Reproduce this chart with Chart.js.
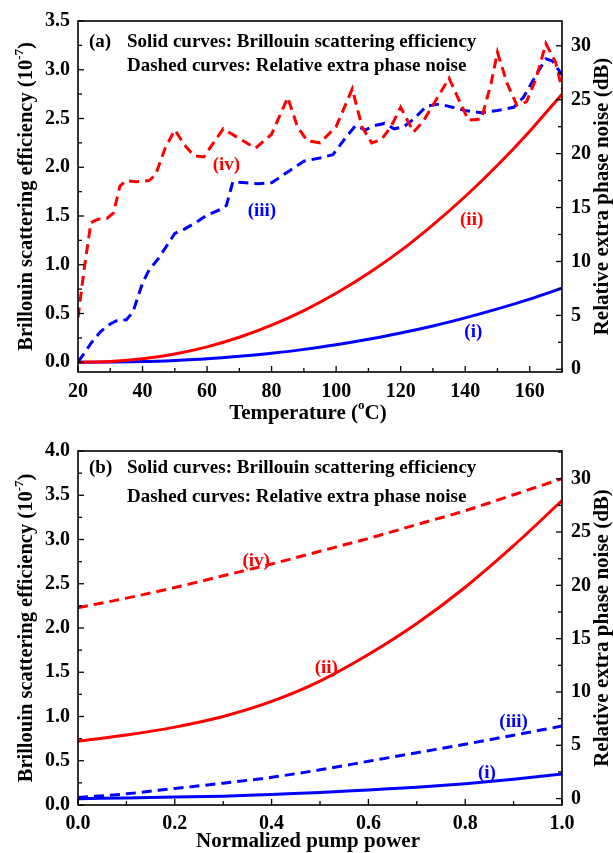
<!DOCTYPE html>
<html><head><meta charset="utf-8">
<script src="https://cdn.jsdelivr.net/npm/chart.js@4"></script>
<style>
html,body{margin:0;padding:0;background:#fff;}
canvas{position:absolute;left:0;}
#c1{top:0;}
#c2{top:430px;}
</style></head><body>
<canvas id="c1" width="613" height="430"></canvas>
<canvas id="c2" width="613" height="423"></canvas>
<script>
// ---------- Panel (a): temperature ----------
const tempSolid = [20,30,40,50,60,70,80,90,100,110,120,130,140,150,160,170];
const effI_a  = [0,0.002,0.007,0.019,0.036,0.061,0.092,0.132,0.179,0.235,0.30,0.372,0.455,0.547,0.648,0.76];
const effII_a = [0,0.008,0.035,0.085,0.158,0.256,0.38,0.53,0.707,0.913,1.145,1.41,1.70,2.02,2.37,2.75];

const tempIII = [20,22,24,27,30,32,35,37,40,42,45,50,53,57,60,64,66,68,72,76,80,85,90,95,99,103,106,109,112,115,118,121,124,128,132,136,140,145,150,155,158,162,165,167,170];
const noiseIII_a = [0.7,1.5,2.4,3.5,4.2,4.5,4.6,5.3,8.0,9.2,10.3,12.6,13.0,13.7,14.3,14.8,15.2,17.4,17.3,17.2,17.3,18.3,19.3,19.6,19.9,21.5,22.6,22.2,22.6,22.8,22.3,22.5,23.2,24.4,24.6,24.3,24.0,23.8,24.0,24.3,25.2,27.3,28.8,28.6,27.3];

const tempIV = [20,22,24,26,29,31,33,35,38,42,44,47,50,53,56,59,62,65,70,75,80,85,88,91,95,100,105,108,111,114,117,120,124,127,131,135,138,141,145,148,150,153,156,159,162,165,168,170];
const noiseIV_a = [4.8,9.5,13.6,13.9,14.0,14.5,17.0,17.5,17.4,17.5,18.0,20.5,22.2,20.8,19.8,19.7,21.0,22.3,21.4,20.5,21.8,25.2,22.5,21.2,21.0,22.5,26.0,22.5,21.0,21.3,22.5,24.3,22.0,23.0,25.0,27.0,25.0,23.1,23.2,26.5,29.4,26.5,24.5,24.8,27.0,30.2,28.5,26.0];

const xTicksA  = [20,40,60,80,100,120,140,160];
const yTicksA  = [0,0.5,1.0,1.5,2.0,2.5,3.0,3.5];
const y2TicksA = [0,5,10,15,20,25,30];

// ---------- Panel (b): normalized pump power ----------
const pump = [0,0.1,0.2,0.3,0.4,0.5,0.6,0.7,0.8,0.9,1.0];
const effI_b    = [0.07,0.08,0.09,0.10,0.12,0.14,0.17,0.20,0.24,0.29,0.35];
const effII_b   = [0.72,0.79,0.88,1.0,1.17,1.40,1.70,2.05,2.46,2.93,3.44];
const noiseIII_b = [0.1,0.45,0.95,1.45,2.0,2.7,3.5,4.3,5.1,5.95,6.8];
const noiseIV_b  = [17.9,18.8,19.8,20.9,22.0,23.2,24.4,25.7,27.0,28.5,30.0];

const xTicksB  = [0,0.2,0.4,0.6,0.8,1.0];
const yTicksB  = [0,0.5,1.0,1.5,2.0,2.5,3.0,3.5,4.0];
const y2TicksB = [0,5,10,15,20,25,30];

const RED = '#ff0000', BLUE = '#0000ff';
const FF = "'Liberation Serif','Times New Roman',serif";

function pts(xs, ys){ return xs.map((x,i)=>({x:x, y:ys[i]})); }

function drawRich(ctx, parts, x, y, size){
  let total = 0;
  const ws = parts.map(p=>{ ctx.font = 'bold '+(p.sup?Math.round(size*0.62):size)+'px '+FF; const w = ctx.measureText(p.t).width; total += w; return w; });
  let cx = x - total/2;
  parts.forEach((p,i)=>{
    ctx.font = 'bold '+(p.sup?Math.round(size*0.62):size)+'px '+FF;
    ctx.textAlign = 'left'; ctx.textBaseline = 'middle';
    ctx.fillText(p.t, cx, p.sup ? y - size*0.38 : y);
    cx += ws[i];
  });
}

const decor = {
  id: 'decor',
  afterDraw(chart, args, o){
    const ctx = chart.ctx, a = chart.chartArea;
    const sx = chart.scales.x, sy = chart.scales.y, sy2 = chart.scales.y2;
    ctx.save();
    ctx.strokeStyle = '#000'; ctx.lineWidth = 1.3;
    const drawTicks = (scale, vals, side) => {
      const majors = vals;
      const minors = [];
      for (let i=0;i<majors.length-1;i++) minors.push((majors[i]+majors[i+1])/2);
      const step = majors[1]-majors[0];
      minors.push(majors[majors.length-1]+step/2);
      minors.unshift(majors[0]-step/2);
      const draw = (v,len) => {
        if (v < scale.min - 1e-9 || v > scale.max + 1e-9) return;
        const p = scale.getPixelForValue(v);
        ctx.beginPath();
        if (side==='bottom'){ ctx.moveTo(p,a.bottom); ctx.lineTo(p,a.bottom-len); }
        if (side==='left'){ ctx.moveTo(a.left,p); ctx.lineTo(a.left+len,p); }
        if (side==='right'){ ctx.moveTo(a.right,p); ctx.lineTo(a.right-len,p); }
        ctx.stroke();
      };
      majors.forEach(v=>draw(v,6));
      minors.forEach(v=>draw(v,4));
    };
    drawTicks(sx, o.xt, 'bottom');
    drawTicks(sy, o.yt, 'left');
    drawTicks(sy2, o.y2t, 'right');
    ctx.lineWidth = 1.6;
    ctx.strokeRect(a.left, a.top, a.right-a.left, a.bottom-a.top);
    ctx.fillStyle = '#000';
    drawRich(ctx, o.xTitle, o.xTitleX, o.xTitleY, 21);
    ctx.save(); ctx.translate(27, (a.top+a.bottom)/2); ctx.rotate(-Math.PI/2);
    drawRich(ctx, [{t:'Brillouin scattering efficiency (10'},{t:'-7',sup:true},{t:')'}], 0, 0, 20.5);
    ctx.restore();
    ctx.save(); ctx.translate(603, (a.top+a.bottom)/2); ctx.rotate(-Math.PI/2);
    drawRich(ctx, [{t:'Relative extra phase noise (dB)'}], 0, 0, 21);
    ctx.restore();
    ctx.font = 'bold 19px '+FF; ctx.textAlign='left'; ctx.textBaseline='middle';
    ctx.fillText(o.panel, 89, o.line1Y);
    ctx.fillText('Solid curves: Brillouin scattering efficiency', 127, o.line1Y);
    ctx.fillText('Dashed curves: Relative extra phase noise', 127, o.line2Y);
    ctx.font = 'bold 19px '+FF; ctx.textAlign='center';
    o.labels.forEach(l=>{
      ctx.fillStyle = l.c;
      ctx.fillText(l.t, sx.getPixelForValue(l.x), sy.getPixelForValue(l.y));
    });
    ctx.restore();
  }
};

function lineDS(data, color, axis, dashed, smooth){
  return { data, borderColor: color, borderWidth: 3, pointRadius: 0, fill: false,
    yAxisID: axis, borderDash: dashed ? [10,6] : [], tension: smooth ? 0.4 : 0,
    cubicInterpolationMode: smooth ? 'monotone' : 'default' };
}

function scaleOpts(min, max, ticks, pos, fit, pad){
  return {
    type: 'linear', position: pos, min, max,
    afterBuildTicks: s => { s.ticks = ticks.map(v=>({value:v})); },
    afterFit: fit,
    grid: { display: true, drawOnChartArea: false, drawTicks: false, color: 'rgba(0,0,0,0)' },
    border: { display: false },
    ticks: { color: '#000', padding: pad, font: { family: FF, size: 20, weight: 'bold' },
      autoSkip: false, maxRotation: 0,
      callback: v => pos==='bottom' ? (ticks[1]-ticks[0]>=1 ? String(v) : v.toFixed(1)) : (pos==='right' ? String(v) : v.toFixed(1)) }
  };
}

Chart.register(decor);

new Chart(document.getElementById('c1'), {
  type: 'line',
  data: { datasets: [
    lineDS(pts(tempIV, noiseIV_a), RED, 'y2', true, false),
    lineDS(pts(tempIII, noiseIII_a), BLUE, 'y2', true, false),
    lineDS(pts(tempSolid, effII_a), RED, 'y', false, true),
    lineDS(pts(tempSolid, effI_a), BLUE, 'y', false, true)
  ]},
  options: {
    responsive: false, animation: false, events: [],
    layout: { padding: { top: 16, left: 0, right: 0, bottom: 0 } },
    plugins: { legend: { display: false }, tooltip: { enabled: false },
      decor: { panel: '(a)', line1Y: 42, line2Y: 66,
        xt: xTicksA, yt: yTicksA, y2t: y2TicksA,
        xTitle: [{t:'Temperature ('},{t:'o',sup:true},{t:'C)'}], xTitleX: 308, xTitleY: 414,
        labels: [
          {t:'(iv)', x:66, y:2.02, c:RED},
          {t:'(iii)', x:77, y:1.55, c:BLUE},
          {t:'(ii)', x:142, y:1.46, c:RED},
          {t:'(i)', x:142.5, y:0.31, c:BLUE}
        ] } },
    scales: {
      x: scaleOpts(20, 170, xTicksA, 'bottom', s=>{ s.height = 58; }, 8),
      y: scaleOpts(-0.1, 3.5, yTicksA, 'left', s=>{ s.width = 78; }, 8),
      y2: scaleOpts(-0.25, 32.3, y2TicksA, 'right', s=>{ s.width = 51; }, 9)
    }
  }
});

new Chart(document.getElementById('c2'), {
  type: 'line',
  data: { datasets: [
    lineDS(pts(pump, noiseIV_b), RED, 'y2', true, true),
    lineDS(pts(pump, noiseIII_b), BLUE, 'y2', true, true),
    lineDS(pts(pump, effII_b), RED, 'y', false, true),
    lineDS(pts(pump, effI_b), BLUE, 'y', false, true)
  ]},
  options: {
    responsive: false, animation: false, events: [],
    layout: { padding: { top: 17, left: 0, right: 0, bottom: 0 } },
    plugins: { legend: { display: false }, tooltip: { enabled: false },
      decor: { panel: '(b)', line1Y: 38, line2Y: 67,
        xt: xTicksB, yt: yTicksB, y2t: y2TicksB,
        xTitle: [{t:'Normalized pump power'}], xTitleX: 308, xTitleY: 412,
        labels: [
          {t:'(iv)', x:0.368, y:2.76, c:RED},
          {t:'(ii)', x:0.513, y:1.55, c:RED},
          {t:'(iii)', x:0.9, y:0.94, c:BLUE},
          {t:'(i)', x:0.845, y:0.36, c:BLUE}
        ] } },
    scales: {
      x: scaleOpts(0, 1, xTicksB, 'bottom', s=>{ s.height = 48; }, 7),
      y: scaleOpts(0, 4.0, yTicksB, 'left', s=>{ s.width = 78; }, 8),
      y2: scaleOpts(-0.6, 32.6, y2TicksB, 'right', s=>{ s.width = 51; }, 9)
    }
  }
});
</script>
</body></html>
